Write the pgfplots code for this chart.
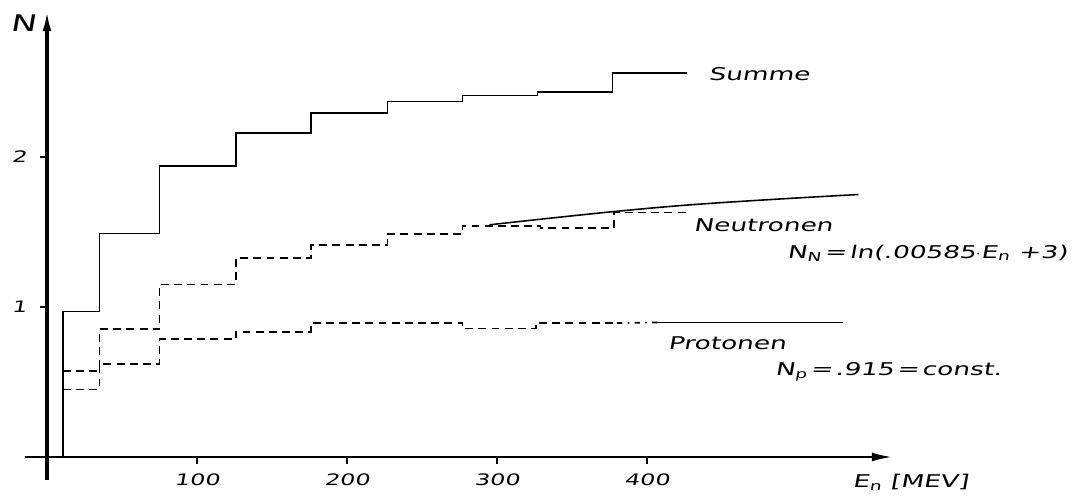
\documentclass[border=0pt]{standalone}
\usepackage{fontspec}
\usepackage{pgfplots}
\pgfplotsset{compat=1.18}
\usetikzlibrary{arrows.meta}
\newfontfamily\hand[FakeStretch=1.5,FakeSlant=0.18]{DejaVu Sans}
\newcommand{\lab}{\hand\fontsize{10}{12}\selectfont}
\newcommand{\tlab}{\hand\fontsize{9}{10}\selectfont}
\begin{document}
\begin{tikzpicture}
\begin{axis}[
  x=0.03cm, y=3cm,
  anchor=origin, at={(0,0)},
  axis lines=middle,
  x axis line style={line width=1.5pt, -{Latex[length=12pt,width=5pt]}},
  y axis line style={line width=1.9pt, -{Latex[length=12pt,width=5pt]}},
  xmin=-15, xmax=564, ymin=-0.15, ymax=2.98,
  xtick={100,200,300,400}, ytick={1,2},
  tick align=outside, major tick length=4pt,
  tick style={line width=0.8pt, black},
  /pgf/number format/assume math mode=true,
  xticklabel style={font=\tlab, yshift=-2pt},
  yticklabel style={font=\tlab, xshift=-4pt},
  clip=false,
]
% Summe
\addplot[black, line width=1pt] coordinates {
 (10.7,0) (10.7,0.97) (35,0.97) (35,1.49) (75,1.49) (75,1.94) (126,1.94) (126,2.16)
 (176,2.16) (176,2.295) (227,2.295) (227,2.37) (277,2.37) (277,2.41) (327,2.41)
 (327,2.435) (377,2.435) (377,2.56) (427,2.56)};
% Neutronen (dashed steps)
\addplot[black, line width=0.9pt, dash pattern=on 4.5pt off 3pt] coordinates {
 (10.7,0.573) (35,0.573) (35,0.853) (75,0.853) (75,1.15) (126,1.15) (126,1.325)
 (176,1.325) (176,1.413) (227,1.413) (227,1.487) (277,1.487) (277,1.54) (329,1.54)
 (329,1.525) (378,1.525) (378,1.63) (429,1.63)};
% Protonen (dashed steps)
\addplot[black, line width=0.9pt, dash pattern=on 4.5pt off 3pt] coordinates {
 (10.7,0.45) (35,0.45) (35,0.62) (75,0.62) (75,0.785) (126,0.785) (126,0.835)
 (176,0.835) (176,0.895) (277,0.895) (277,0.858) (326,0.858) (326,0.893) (380,0.893)};
\addplot[black, line width=0.9pt, dash pattern=on 3pt off 3pt on 1pt off 3pt] coordinates {
 (380,0.893) (407,0.897)};
% Protonen theory
\addplot[black, line width=0.9pt] coordinates {(407,0.898) (531,0.898)};
% Neutronen theory curve
\addplot[black, line width=0.9pt, smooth, tension=0.6] coordinates {
 (295,1.548) (340,1.597) (385,1.643) (430,1.682) (485,1.718) (541,1.75)};
% labels
\node[anchor=center, font=\hand\fontsize{13}{14}\selectfont] at (axis cs:-16,2.89) {N};
\node[anchor=west, font=\lab] at (axis cs:437,2.55) {Summe};
\node[anchor=west, font=\lab] at (axis cs:427,1.547) {Neutronen};
\node[anchor=west, font=\lab, inner sep=1pt] at (axis cs:492,1.36) {N\textsubscript{N}\,=\,ln(.00585$\cdot$E\textsubscript{n} +3)};
\node[anchor=west, font=\lab] at (axis cs:410,0.76) {Protonen};
\node[anchor=west, font=\lab, inner sep=1pt] at (axis cs:484,0.567) {N\textsubscript{p}\,=\,.915\,=\,const.};
\node[anchor=west, font=\lab] at (axis cs:533,-0.167) {E\textsubscript{n} [MEV]};
\end{axis}
\pgfresetboundingbox
\path (-0.94,-0.78) rectangle (20.84,9.14);
\end{tikzpicture}
\end{document}
